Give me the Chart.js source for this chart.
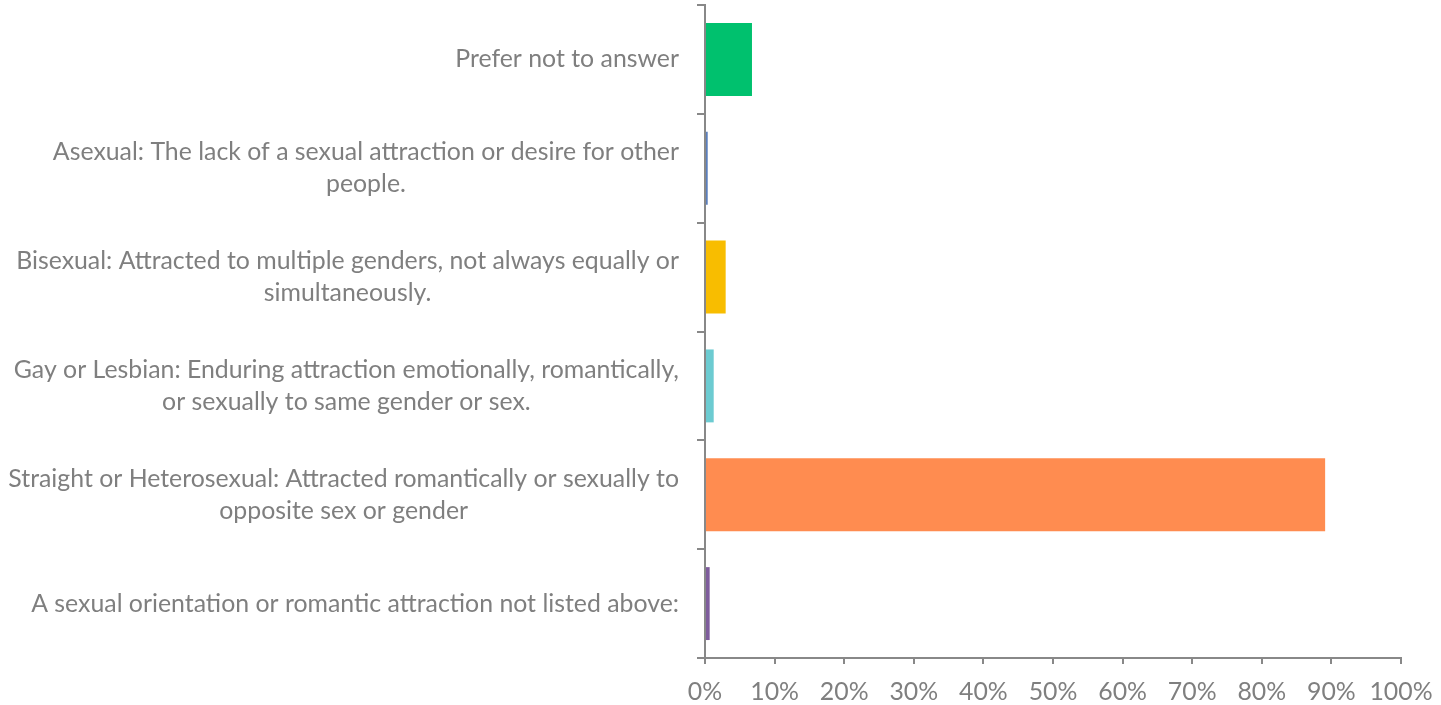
<!DOCTYPE html>
<html>
<head>
<meta charset="utf-8">
<script src="https://cdn.jsdelivr.net/npm/chart.js@4/dist/chart.umd.min.js"></script>
<style>
  html, body { margin: 0; padding: 0; background: #ffffff; }
  #wrap { width: 1441px; height: 705px; }
</style>
</head>
<body>
<div id="wrap"><canvas id="c" width="1441" height="705"></canvas></div>
<script>
// ---- data ----
const categories = [
  ["Prefer not to answer"],
  ["Asexual: The lack of a sexual attraction or desire for other", "people."],
  ["Bisexual: Attracted to multiple genders, not always equally or", "simultaneously."],
  ["Gay or Lesbian: Enduring attraction emotionally, romantically,", "or sexually to same gender or sex."],
  ["Straight or Heterosexual: Attracted romantically or sexually to", "opposite sex or gender"],
  ["A sexual orientation or romantic attraction not listed above:"]
];
const values = [0.0675, 0.0039, 0.0297, 0.0125, 0.891, 0.0067];
const barColors = ["#00C16E", "#5A7EBC", "#F8BD00", "#6CCBD1", "#FF8C50", "#7E5C9C"];
const xTicks = [0, 0.1, 0.2, 0.3, 0.4, 0.5, 0.6, 0.7, 0.8, 0.9, 1.0];

// ---- style ----
const FAMILY = "Lato";
const TEXT = "#7F7F7F";
const AXIS = "#888888";
const m = document.createElement('canvas').getContext('2d');
m.font = "100px " + FAMILY;
const FS = 671 / m.measureText("Straight or Heterosexual: Attracted romantically or sexually to").width * 100;
const LH = 32;
const LABEL_RIGHT = 679;

const yLabelPlugin = {
  id: 'yLabels',
  afterDraw(chart) {
    const ys = chart.scales.y;
    const ctx = chart.ctx;
    ctx.save();
    ctx.font = FS + "px " + FAMILY;
    ctx.fillStyle = TEXT;
    ctx.textAlign = 'center';
    ctx.textBaseline = 'middle';
    categories.forEach((lines, i) => {
      const cy = ys.getPixelForValue(i);
      const bw = Math.max(...lines.map(l => ctx.measureText(l).width));
      const cx = LABEL_RIGHT - bw / 2;
      const y0 = cy - (lines.length - 1) * LH / 2;
      lines.forEach((l, k) => ctx.fillText(l, cx, y0 + k * LH));
    });
    ctx.restore();
  }
};

new Chart(document.getElementById('c'), {
  type: 'bar',
  data: {
    labels: categories.map(c => c.join(' ')),
    datasets: [{
      data: values,
      backgroundColor: barColors,
      borderWidth: 0,
      categoryPercentage: 1.0,
      barPercentage: 0.67
    }]
  },
  options: {
    indexAxis: 'y',
    responsive: false,
    animation: false,
    devicePixelRatio: 1,
    layout: { padding: { top: 5, right: 40, left: 0, bottom: 0 } },
    plugins: { legend: { display: false }, tooltip: { enabled: false } },
    scales: {
      y: {
        type: 'category',
        grid: { display: true, drawOnChartArea: false, drawTicks: true, tickLength: 8, offset: true, color: AXIS, lineWidth: 2 },
        border: { display: true, color: AXIS, width: 2 },
        ticks: { display: false },
        afterFit(s) { s.width = 705; s.paddingTop = 0; s.paddingBottom = 0; }
      },
      x: {
        type: 'linear',
        min: 0, max: 1,
        afterBuildTicks(s) { s.ticks = xTicks.map(v => ({ value: v })); },
        grid: { display: true, drawOnChartArea: false, drawTicks: true, tickLength: 6, color: AXIS, lineWidth: 2 },
        border: { display: true, color: AXIS, width: 2 },
        ticks: {
          color: TEXT,
          font: { family: FAMILY, size: FS },
          padding: 13,
          maxRotation: 0,
          autoSkip: false,
          callback: v => Math.round(v * 100) + '%'
        },
        afterFit(s) { s.height = 47; s.paddingLeft = 0; s.paddingRight = 0; }
      }
    }
  },
  plugins: [yLabelPlugin]
});
</script>
</body>
</html>
